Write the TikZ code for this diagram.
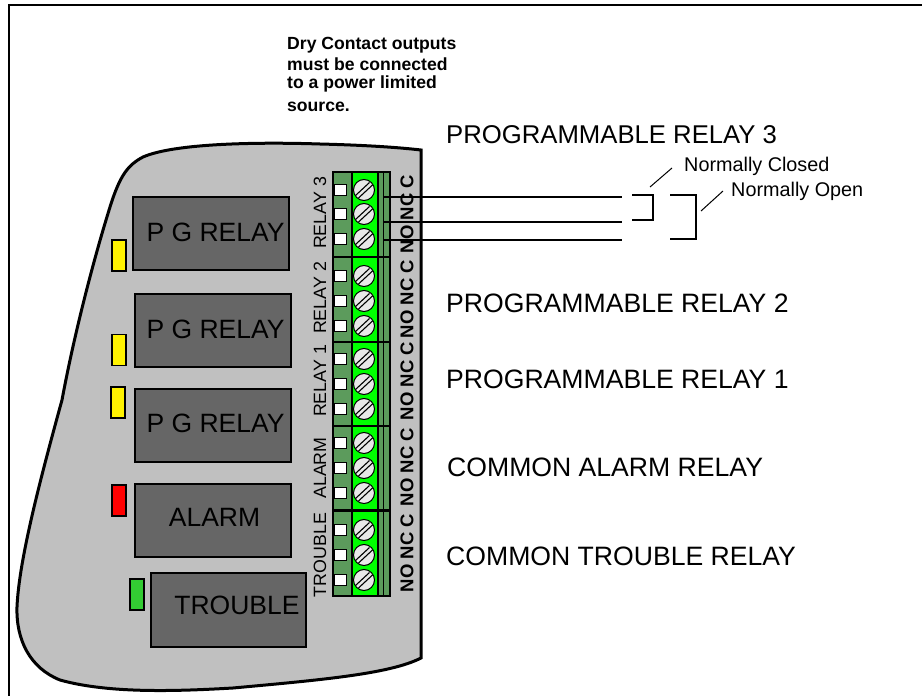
\documentclass[tikz,border=0pt]{standalone}
\usepackage{fontspec}
\setmainfont{Liberation Sans}
\definecolor{devgray}{RGB}{192,192,192}
\definecolor{boxgray}{RGB}{102,102,102}
\definecolor{dotgreen}{RGB}{92,155,92}
\definecolor{ledgreen}{RGB}{51,204,51}
\definecolor{termgreen}{RGB}{0,255,0}
\definecolor{screwgray}{RGB}{232,232,232}
\newcommand{\fs}[1]{\fontsize{#1}{#1}\selectfont}
\tikzset{
  x=1pt,y=-1pt,
  relaybox/.style={draw=black,line width=2.2pt,fill=boxgray,inner sep=0pt},
  relaytext/.style={font=\fs{26.5},inner sep=0pt},
  led/.style={draw=black,line width=1.3pt,inner sep=0pt,minimum width=14pt,minimum height=31pt},
  screwhead/.style={circle,draw=black,line width=1pt,fill=screwgray,minimum size=21pt,inner sep=0pt},
  whitepin/.style={draw=black,line width=1.8pt,fill=white,minimum width=12pt,minimum height=11pt,inner sep=0pt},
  bignote/.style={anchor=west,font=\fs{26.6},inner sep=0pt},
  smallnote/.style={anchor=west,font=\fs{19.8},inner sep=0pt},
  boldnote/.style={anchor=west,font=\bfseries\fs{17.6},inner sep=0pt},
  sidelabel/.style={rotate=90,font=\fs{17.8},inner sep=0pt},
  contactlabel/.style={rotate=90,font=\bfseries\fs{18.5},inner sep=0pt},
  wire/.style={line width=2.2pt,line cap=butt},
  thinwire/.style={line width=1.2pt}
}
\begin{document}
\begin{tikzpicture}
\useasboundingbox (0,0) rectangle (922,696);
\fill[white] (0,0) rectangle (922,696);
% frame
\draw[line width=2.2pt] (9,696) -- (9,5) -- (922,5);
% device outline
\draw[line width=3pt,fill=devgray,line join=miter]
  (421,150) -- (421,658)
  .. controls (390,674) and (320,680) .. (233,688)
  .. controls (180,691) and (110,694) .. (60,680)
  .. controls (30,668) and (16,640) .. (17,607)
  .. controls (19,560) and (40,480) .. (62,400)
  .. controls (75,330) and (95,255) .. (110,207)
  .. controls (120,175) and (128,165) .. (143,157)
  .. controls (175,143) and (260,142) .. (320,144)
  .. controls (360,145) and (395,147) .. (421,150) -- cycle;
% relay boxes
\node[relaybox,minimum width=156pt,minimum height=73pt] (pg1) at (211,233.5) {};
\node[relaytext] (pg1t) at (215.5,232) {P G RELAY};
\node[relaybox,minimum width=156pt,minimum height=73pt] (pg2) at (213,330.5) {};
\node[relaytext] (pg2t) at (215.5,329) {P G RELAY};
\node[relaybox,minimum width=156pt,minimum height=73pt] (pg3) at (213,425.5) {};
\node[relaytext] (pg3t) at (215.5,423) {P G RELAY};
\node[relaybox,minimum width=156pt,minimum height=73pt] (alarm) at (213,520.5) {};
\node[relaytext] (alarmt) at (214.5,517) {ALARM};
\node[relaybox,minimum width=155pt,minimum height=74pt] (trouble) at (228.5,610) {};
\node[relaytext] (troublet) at (237,605) {TROUBLE};
% LEDs
\node[led,fill=yellow] (l1) at (119,255.5) {};
\node[led,fill=yellow] (l2) at (119,350) {};
\node[led,fill=yellow] (l3) at (118,402.5) {};
\node[led,fill=red] (l4) at (119,500.5) {};
\node[led,fill=ledgreen] (l5) at (137,594.5) {};
% terminal blocks
\foreach \t/\b/\sa/\sb/\sc in {172/257/190/214/239, 257/342/276/301/326, 342/426/359/384/409, 426/510/443/468/493, 510/596/530/555/580}{
  \fill[dotgreen] (333,\t) rectangle (390,\b);
  \fill[termgreen] (352,\t) rectangle (378,\b);
  \draw[line width=1.2pt] (352,\t) -- (352,\b) (378,\t) -- (378,\b) (383.5,\t) -- (383.5,\b);
  \draw[line width=2pt] (333,\t) rectangle (390,\b);
  \foreach \s in {\sa,\sb,\sc}{
    \node[screwhead] (sc\s) at (364,\s) {};
    \draw[line width=1.1pt] (355.5,\s+5.5) -- (369.5,\s-7.5) (358.5,\s+8) -- (372.5,\s-5);
    \node[whitepin] (pin\s) at (340.5,\s) {};
  }
}
\draw[line width=3pt] (333,510) -- (391,510);
\draw[line width=2.4pt] (333,257) -- (391,257);
% side labels
\node[sidelabel] (r3) at (320,213) {RELAY 3};
\node[sidelabel] (r2) at (320,298) {RELAY 2};
\node[sidelabel] (r1) at (320,381) {RELAY 1};
\node[sidelabel] (ra) at (320,468) {ALARM};
\node[sidelabel] (rt) at (320,555) {TROUBLE};
\node[contactlabel] (c3) at (407,214) {NO NC C};
\node[contactlabel] (c2) at (407,299) {NO NC C};
\node[contactlabel] (c1) at (407,381) {NO NC C};
\node[contactlabel] (ca) at (407,467) {NO NC C};
\node[contactlabel] (ct) at (407,553) {NO NC C};
% wires
\coordinate (wa) at (622,197); \coordinate (wb) at (622,222); \coordinate (wc) at (622,240);
\draw[wire] (383,197) -- (wa);
\draw[wire] (383,222) -- (wb);
\draw[wire] (383,240) -- (wc);
% brackets
\coordinate (nc1) at (632,195); \coordinate (nc2) at (653,195); \coordinate (nc3) at (653,220); \coordinate (nc4) at (632,220);
\draw[thinwire] (nc1) -- (nc2) -- (nc3) -- (nc4);
\coordinate (no1) at (670,195); \coordinate (no2) at (696,195); \coordinate (no3) at (696,239); \coordinate (no4) at (670,239);
\draw[thinwire] (no1) -- (no2) -- (no3) -- (no4);
\coordinate (la) at (650,187); \coordinate (lb) at (672,168);
\coordinate (lc) at (701,211); \coordinate (ld) at (723,191);
\draw[line width=1pt] (la) -- (lb);
\draw[line width=1pt] (lc) -- (ld);
% texts
\node[smallnote] (nclosed) at (684,166) {Normally Closed};
\node[smallnote] (nopen) at (731,191) {Normally Open};
\node[bignote,font=\fs{25.7}] (t3) at (446,135) {PROGRAMMABLE RELAY 3};
\node[bignote] (t2) at (446,303) {PROGRAMMABLE RELAY 2};
\node[bignote] (t1) at (446,379) {PROGRAMMABLE RELAY 1};
\node[bignote] (ta) at (447,467) {COMMON ALARM RELAY};
\node[bignote] (tt) at (446,556) {COMMON TROUBLE RELAY};
\node[boldnote] (d1) at (287,45) {Dry Contact outputs};
\node[boldnote] (d2) at (287,64) {must be connected};
\node[boldnote] (d3) at (287,84) {to a power limited};
\node[boldnote] (d4) at (287,107) {source.};
\end{tikzpicture}
\end{document}
